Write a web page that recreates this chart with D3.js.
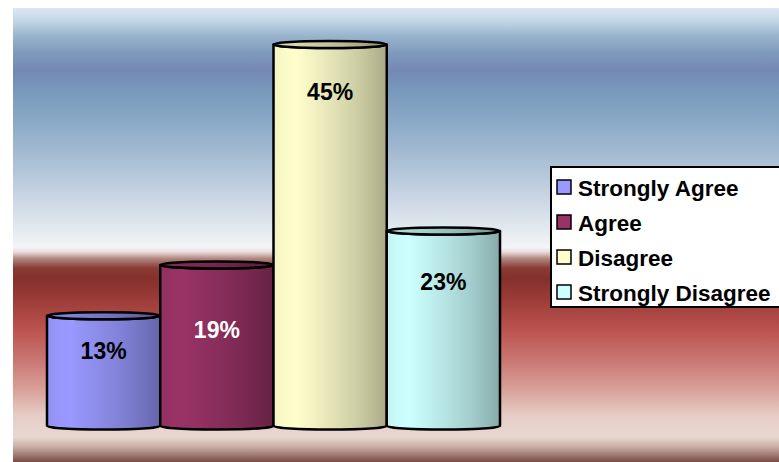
<!DOCTYPE html>
<html>
<head>
<meta charset="utf-8">
<script src="https://cdn.jsdelivr.net/npm/d3@7"></script>
<style>
  body { margin: 0; background: #fff; }
  svg { display: block; font-family: Arial, "Liberation Sans", sans-serif; }
</style>
</head>
<body>
<div id="chart"></div>
<script>
// survey answers, share of respondents
const categories = ["Strongly Agree", "Agree", "Disagree", "Strongly Disagree"];
const values = [0.13, 0.19, 0.45, 0.23];
const barColors = ["#9999ff", "#993366", "#ffffcc", "#ccffff"];
const labelColors = ["#000", "#fff", "#000", "#000"];

const width = 779, height = 462;

const svg = d3.select("#chart").append("svg")
  .attr("width", width)
  .attr("height", height);

const defs = svg.append("defs");

// plot area background (blue sky over red band)
const bgStops = [
  [0, "#dce8f3"], [0.03, "#c2d5e5"], [0.06, "#9ab5cd"], [0.10, "#7f99bd"],
  [0.137, "#7488b4"], [0.18, "#7898bc"], [0.25, "#8aa9c6"], [0.335, "#a9bfd4"],
  [0.42, "#cad6e4"], [0.49, "#e4eaf0"], [0.527, "#f3f4f6"], [0.537, "#ecdede"],
  [0.552, "#b08880"], [0.573, "#8a3a34"], [0.595, "#85302c"], [0.643, "#9c3c38"],
  [0.71, "#bc5450"], [0.775, "#c97672"], [0.84, "#d8a098"], [0.896, "#e6ccc4"],
  [0.945, "#e8d8d0"], [0.968, "#c6aaa2"], [1, "#7a4c44"]
];
const bg = defs.append("linearGradient").attr("id", "bg")
  .attr("x1", 0).attr("y1", 0).attr("x2", 0).attr("y2", 1);
bg.selectAll("stop").data(bgStops).join("stop")
  .attr("offset", d => d[0]).attr("stop-color", d => d[1]);

svg.append("rect")
  .attr("x", 13).attr("y", 8)
  .attr("width", width - 13).attr("height", height - 8)
  .attr("fill", "url(#bg)");

const x = d3.scaleBand().domain(categories).range([47, 500]).padding(0);
const y = d3.scaleLinear().domain([0, 0.5]).range([426, 2]);

// cylinder shading: light strip near the left, darker toward right
barColors.forEach((c, i) => {
  const g = defs.append("linearGradient").attr("id", "cyl" + i)
    .attr("x1", 0).attr("y1", 0).attr("x2", 1).attr("y2", 0);
  const base = d3.rgb(c);
  const shade = k => d3.rgb(base.r * k, base.g * k, base.b * k).formatHex();
  [[0, 0.95], [0.08, 0.98], [0.2, 1], [0.35, 0.95], [0.55, 0.88],
   [0.75, 0.8], [0.9, 0.72], [1, 0.66]]
    .forEach(s => g.append("stop").attr("offset", s[0]).attr("stop-color", shade(s[1])));
});

const ry = 3.5;
const bars = svg.append("g").selectAll("g")
  .data(values)
  .join("g");

bars.append("path")
  .attr("d", (d, i) => {
    const x0 = x(categories[i]), x1 = x0 + x.bandwidth();
    const rx = x.bandwidth() / 2;
    const yt = y(d), yb = y(0);
    return `M${x0},${yt} L${x0},${yb} A${rx},${ry} 0 0 0 ${x1},${yb} L${x1},${yt} A${rx},${ry} 0 0 1 ${x0},${yt} Z`;
  })
  .attr("fill", (d, i) => `url(#cyl${i})`)
  .attr("stroke", "#000")
  .attr("stroke-width", 2.5)
  .attr("stroke-linejoin", "round");

bars.append("ellipse")
  .attr("cx", (d, i) => x(categories[i]) + x.bandwidth() / 2)
  .attr("cy", d => y(d))
  .attr("rx", x.bandwidth() / 2)
  .attr("ry", ry)
  .attr("fill", (d, i) => `url(#cyl${i})`)
  .attr("stroke", "#000")
  .attr("stroke-width", 2.5);

bars.append("ellipse")
  .attr("cx", (d, i) => x(categories[i]) + x.bandwidth() / 2)
  .attr("cy", d => y(d))
  .attr("rx", x.bandwidth() / 2 - 1.5)
  .attr("ry", ry - 1.2)
  .attr("fill", "#000")
  .attr("fill-opacity", 0.15);

// value labels
const labelDy = [35, 65, 48, 51];
bars.append("text")
  .attr("x", (d, i) => x(categories[i]) + x.bandwidth() / 2)
  .attr("y", (d, i) => y(d) + labelDy[i])
  .attr("text-anchor", "middle")
  .attr("dominant-baseline", "central")
  .attr("font-size", 23)
  .attr("font-weight", "bold")
  .attr("fill", (d, i) => labelColors[i])
  .text(d => d3.format(".0%")(d));

// legend
const legend = svg.append("g");
legend.append("rect")
  .attr("x", 551).attr("y", 167)
  .attr("width", 240).attr("height", 140)
  .attr("fill", "#fff")
  .attr("stroke", "#000")
  .attr("stroke-width", 2);

const items = legend.selectAll("g.item")
  .data(categories)
  .join("g")
  .attr("class", "item")
  .attr("transform", (d, i) => `translate(557,${187 + i * 35})`);

items.append("rect")
  .attr("x", 0).attr("y", -7)
  .attr("width", 14).attr("height", 14)
  .attr("fill", (d, i) => barColors[i])
  .attr("stroke", "#000")
  .attr("stroke-width", 1.5);

items.append("text")
  .attr("x", 21).attr("y", 1)
  .attr("dominant-baseline", "central")
  .attr("font-size", 22.5)
  .attr("font-weight", "bold")
  .attr("fill", "#000")
  .text(d => d);
</script>
</body>
</html>
